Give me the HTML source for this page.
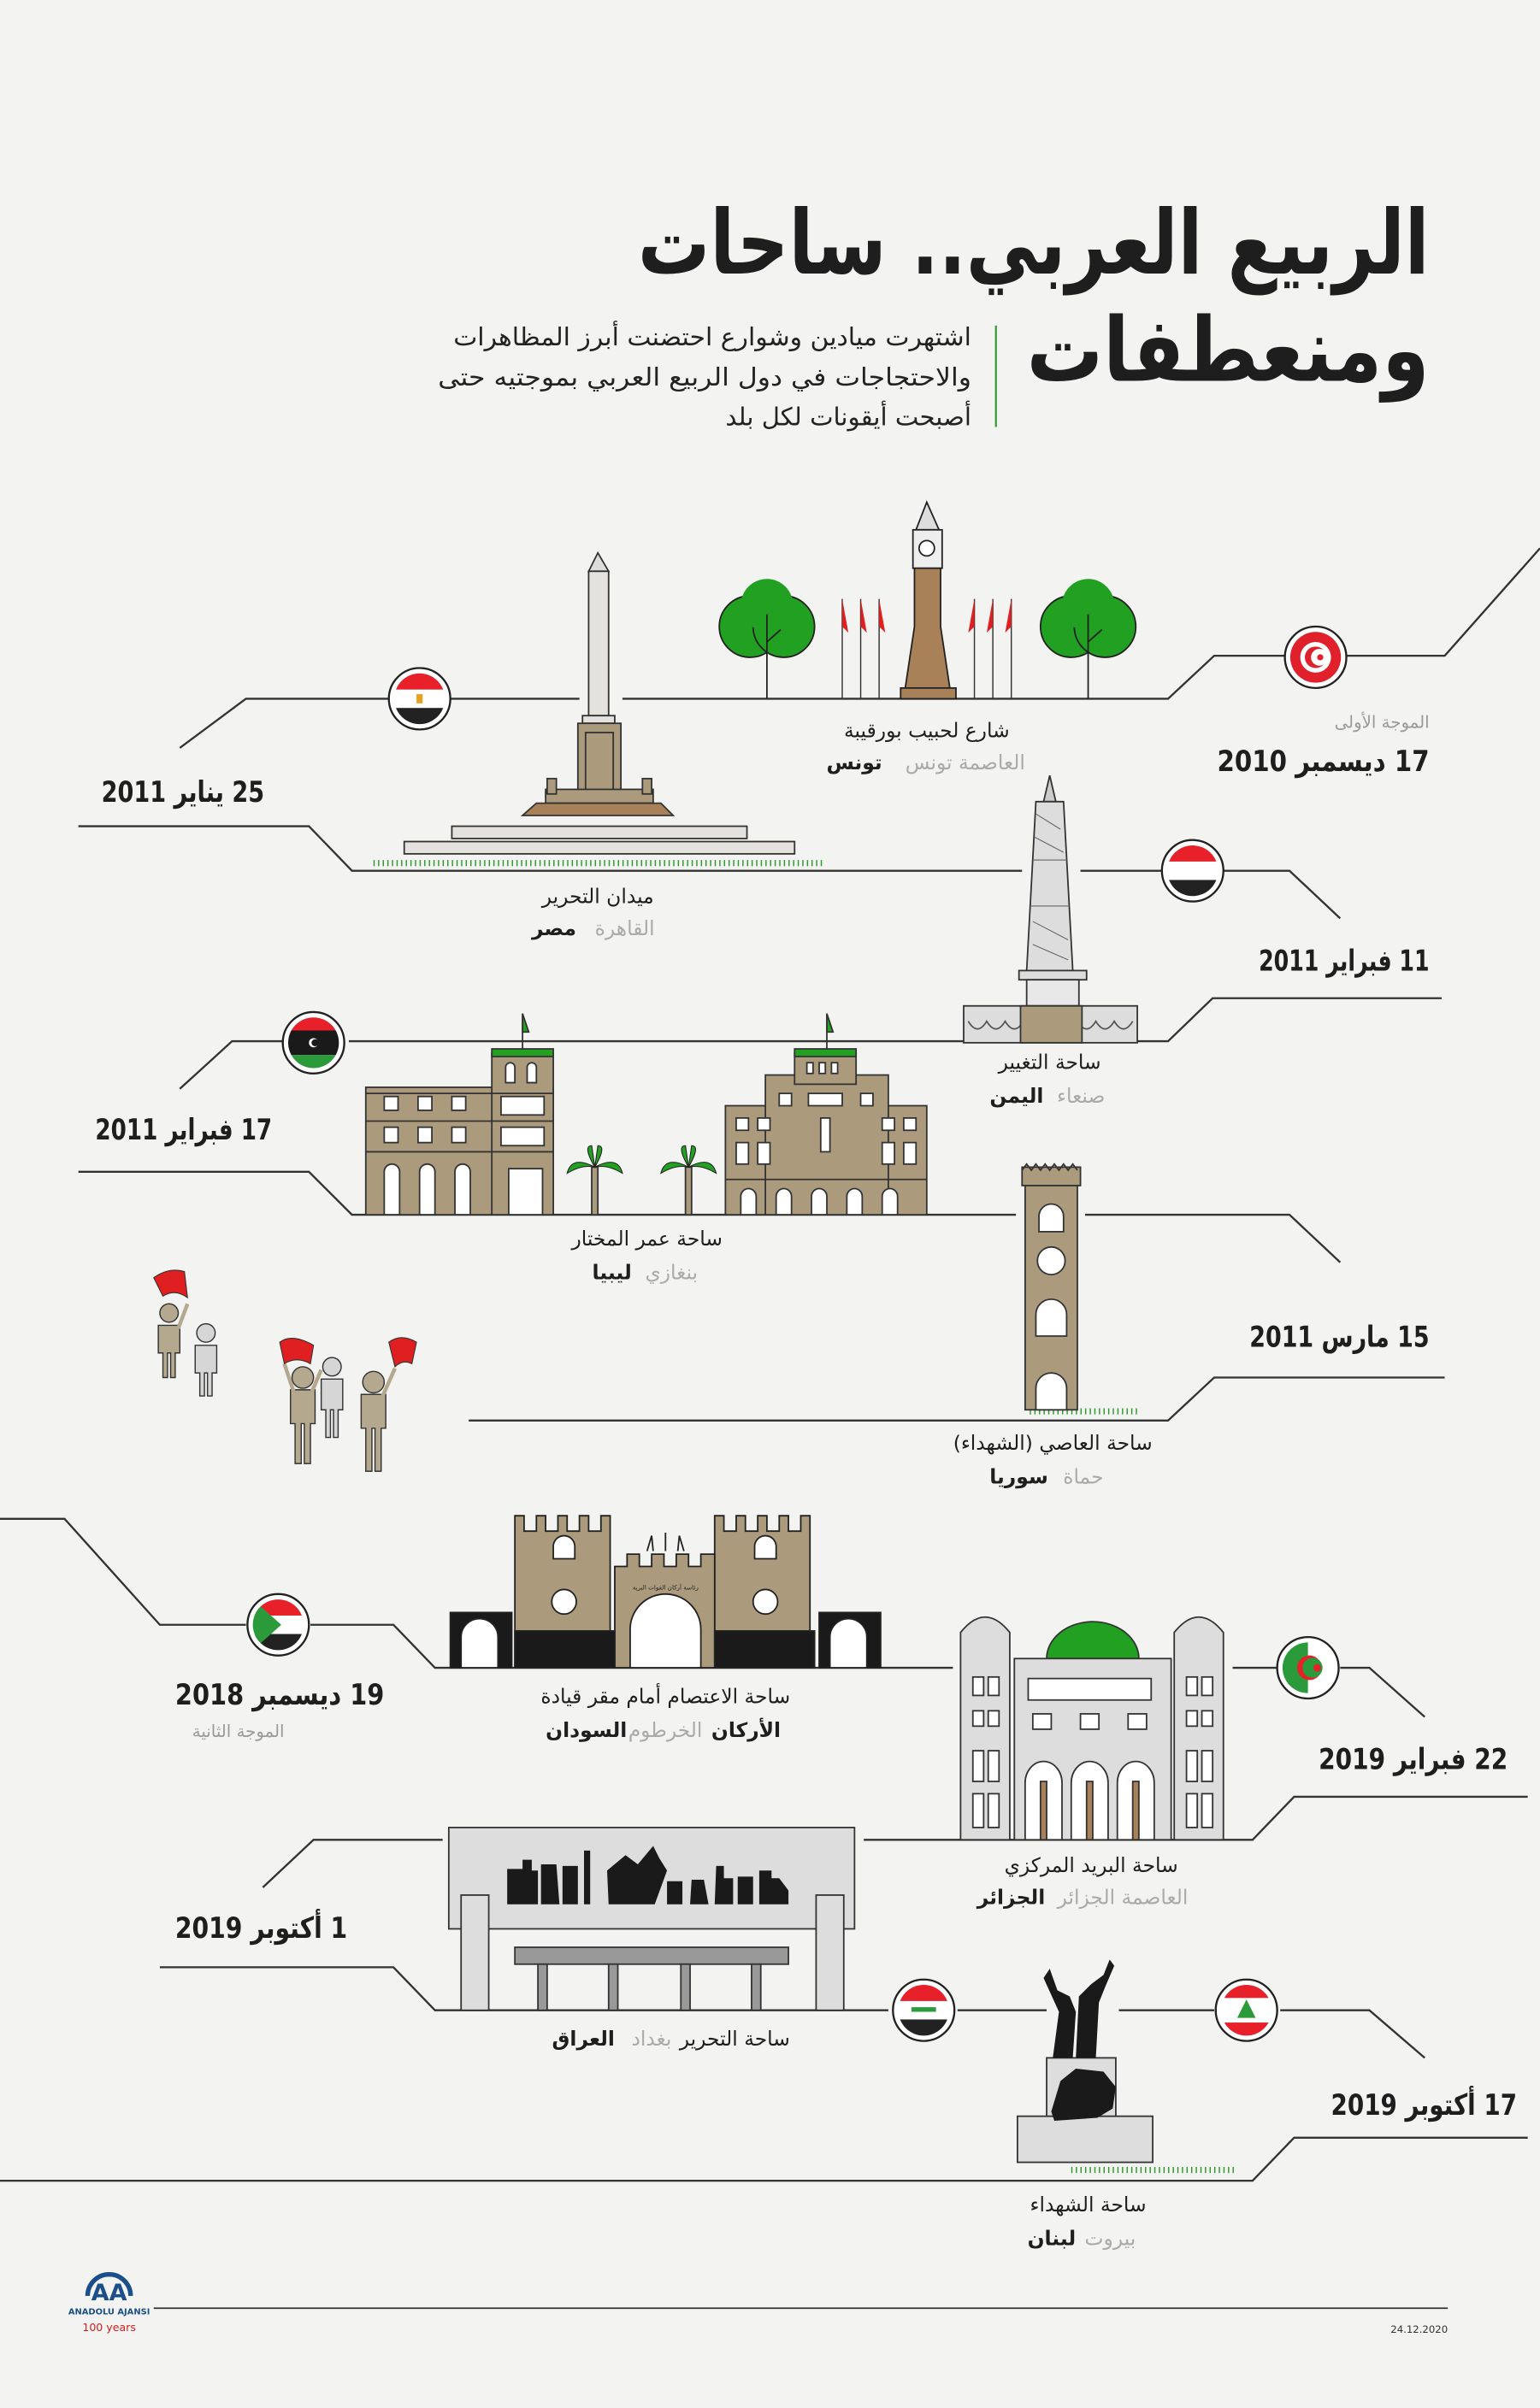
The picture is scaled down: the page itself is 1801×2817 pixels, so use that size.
<!DOCTYPE html>
<html><head><meta charset="utf-8"><style>
html,body{margin:0;padding:0;background:#f3f3f1;}
svg{display:block;}
text{font-family:"DejaVu Sans","Liberation Sans",sans-serif;}
</style></head><body>
<svg width="1801" height="2817" viewBox="0 0 1002 1568" preserveAspectRatio="none" xmlns="http://www.w3.org/2000/svg">
<defs>
<clipPath id="c"><circle cx="0" cy="0" r="16.5"/></clipPath>
</defs>
<rect width="1002" height="1568" fill="#f3f3f1"/>

<!-- Title -->
<text x="930" y="178" text-anchor="end" font-size="58" font-weight="bold" fill="#1e1e1e" textLength="515" lengthAdjust="spacingAndGlyphs">الربيع العربي.. ساحات</text>
<text x="930" y="248" text-anchor="end" font-size="58" font-weight="bold" fill="#1e1e1e" textLength="262" lengthAdjust="spacingAndGlyphs">ومنعطفات</text>
<line x1="648" y1="212" x2="648" y2="278" stroke="#2a9a2a" stroke-width="1.2"/>
<g font-size="16" fill="#222" text-anchor="end">
<text x="632" y="225" textLength="337" lengthAdjust="spacingAndGlyphs">اشتهرت ميادين وشوارع احتضنت أبرز المظاهرات</text>
<text x="632" y="251" textLength="347" lengthAdjust="spacingAndGlyphs">والاحتجاجات في دول الربيع العربي بموجتيه حتى</text>
<text x="632" y="277" textLength="160" lengthAdjust="spacingAndGlyphs">أصبحت أيقونات لكل بلد</text>
</g>

<!-- Timeline lines -->
<g fill="none" stroke="#333" stroke-width="1.3">
<polyline points="1002,357 940,427 790,427 760,455 405,455"/>
<polyline points="377,455 160,455 117,487"/>
<polyline points="51,538 201,538 229,567 665,567"/>
<polyline points="703,567 839,567 872,598"/>
<polyline points="938,650 789,650 760,678 227,678"/>
<polyline points="185,678 151,678 117,709"/>
<polyline points="51,763 201,763 229,791 661,791"/>
<polyline points="706,791 839,791 872,822"/>
<polyline points="940,897 790,897 760,925 305,925"/>
<polyline points="0,989 42,989 104,1058 160,1058"/>
<polyline points="202,1058 256,1058 283,1086 620,1086"/>
<polyline points="802,1086 831,1086"/>
<polyline points="872,1086 891,1086 927,1118"/>
<polyline points="994,1170 842,1170 815,1198 562,1198"/>
<polyline points="288,1198 204,1198 171,1229"/>
<polyline points="104,1281 256,1281 283,1309 578,1309"/>
<polyline points="623,1309 681,1309"/>
<polyline points="728,1309 790,1309"/>
<polyline points="833,1309 891,1309 927,1340"/>
<polyline points="994,1392 842,1392 815,1420 0,1420"/>
</g>
<line x1="100" y1="1503" x2="942" y2="1503" stroke="#333" stroke-width="1"/>
<g stroke="#2a9a2a" stroke-width="4" stroke-dasharray="0.8 2.2">
<line x1="243" y1="562" x2="535" y2="562"/>
<line x1="670" y1="919" x2="740" y2="919"/>
<line x1="697" y1="1413" x2="805" y2="1413"/>
</g>

<!-- Tunisia -->
<g stroke="#222" stroke-width="1">
<circle cx="488" cy="408" r="20" fill="#21a021"/><circle cx="510" cy="408" r="20" fill="#21a021"/><circle cx="499" cy="394" r="17" fill="#21a021" stroke="none"/>
<line x1="499" y1="400" x2="499" y2="455"/><line x1="499" y1="418" x2="508" y2="410"/>
<circle cx="697" cy="408" r="20" fill="#21a021"/><circle cx="719" cy="408" r="20" fill="#21a021"/><circle cx="708" cy="394" r="17" fill="#21a021" stroke="none"/>
<line x1="708" y1="400" x2="708" y2="455"/><line x1="708" y1="418" x2="717" y2="410"/>
</g>
<g stroke="#333" stroke-width="0.8">
<line x1="548" y1="390" x2="548" y2="455"/><line x1="560" y1="390" x2="560" y2="455"/><line x1="572" y1="390" x2="572" y2="455"/>
<line x1="634" y1="390" x2="634" y2="455"/><line x1="646" y1="390" x2="646" y2="455"/><line x1="658" y1="390" x2="658" y2="455"/>
</g>
<g fill="#e02020">
<polygon points="548,390 552,412 548,408"/><polygon points="560,390 564,412 560,408"/><polygon points="572,390 576,412 572,408"/>
<polygon points="634,390 630,412 634,408"/><polygon points="646,390 642,412 646,408"/><polygon points="658,390 654,412 658,408"/>
</g>
<g stroke="#222" stroke-width="1">
<polygon points="603,327 596,345 611,345" fill="#ddd"/>
<rect x="594" y="345" width="19" height="25" fill="#eee"/>
<circle cx="603" cy="357" r="5" fill="#fff"/>
<polygon points="595,370 612,370 612,408 618,448 589,448 595,408" fill="#a88158"/>
<rect x="586" y="448" width="36" height="7" fill="#a88158"/>
</g>

<!-- Egypt obelisk -->
<g stroke="#333" stroke-width="1">
<polygon points="389,360 383,372 396,372" fill="#ddd"/>
<rect x="383" y="372" width="13" height="94" fill="#e4e2de"/>
<rect x="379" y="466" width="21" height="5" fill="#e4e2de"/>
<rect x="376" y="471" width="28" height="52" fill="#ab9b7c"/>
<rect x="381" y="477" width="18" height="40" fill="#ab9b7c"/>
<rect x="355" y="514" width="70" height="9" fill="#ab9b7c"/>
<rect x="356" y="507" width="6" height="10" fill="#ab9b7c"/><rect x="418" y="507" width="6" height="10" fill="#ab9b7c"/>
<polygon points="340,531 349,523 430,523 438,531" fill="#a88158"/>
<rect x="294" y="538" width="192" height="8" fill="#e4e2de"/>
<rect x="263" y="548" width="254" height="8" fill="#e4e2de"/>
</g>

<!-- Yemen tower -->
<g stroke="#333" stroke-width="1">
<polygon points="683,505 679,522 687,522" fill="#ccc"/>
<polygon points="674,522 692,522 698,632 668,632" fill="#ddd"/>
<path d="M672,560 L694,560 M671,590 L695,590 M674,530 L690,540 M673,545 L692,555 M672,600 L695,612 M672,615 L695,625" stroke="#666" stroke-width="0.6"/>
<rect x="663" y="632" width="44" height="6" fill="#ddd"/>
<rect x="668" y="638" width="34" height="17" fill="#e8e8e8"/>
<rect x="627" y="655" width="113" height="24" fill="#ddd"/>
<path d="M630,665 q6,10 12,0 q6,10 12,0 q6,10 12,0 M701,665 q6,10 12,0 q6,10 12,0 q6,10 12,0" fill="none" stroke="#555"/>
<rect x="664" y="655" width="40" height="24" fill="#ab9b7c"/>
</g>

<!-- Libya buildings -->
<g stroke="#333" stroke-width="1">
<rect x="238" y="708" width="122" height="83" fill="#ab9b7c"/>
<rect x="320" y="686" width="40" height="105" fill="#ab9b7c"/>
<rect x="320" y="683" width="40" height="5" fill="#21a021"/>
<line x1="340" y1="660" x2="340" y2="683"/><polygon points="340,660 344,672 340,672" fill="#21a021"/>
<line x1="238" y1="712" x2="360" y2="712"/><line x1="238" y1="730" x2="360" y2="730"/><line x1="238" y1="750" x2="360" y2="750"/>
<g fill="#fff">
<rect x="250" y="714" width="9" height="9"/><rect x="272" y="714" width="9" height="9"/><rect x="294" y="714" width="9" height="9"/><rect x="326" y="714" width="28" height="12"/>
<rect x="250" y="734" width="9" height="10"/><rect x="272" y="734" width="9" height="10"/><rect x="294" y="734" width="9" height="10"/><rect x="326" y="734" width="28" height="12"/>
<path d="M250,791 v-28 a5,5 0 0 1 10,0 v28z M273,791 v-28 a5,5 0 0 1 10,0 v28z M296,791 v-28 a5,5 0 0 1 10,0 v28z M331,791 v-30 h22 v30z"/>
<path d="M329,705 v-10 a3,3 0 0 1 6,0 v10z M343,705 v-10 a3,3 0 0 1 6,0 v10z"/>
</g>
<rect x="472" y="720" width="131" height="71" fill="#ab9b7c"/>
<rect x="498" y="700" width="80" height="91" fill="#ab9b7c"/>
<rect x="517" y="686" width="40" height="20" fill="#ab9b7c"/>
<rect x="517" y="683" width="40" height="5" fill="#21a021"/>
<line x1="538" y1="660" x2="538" y2="683"/><polygon points="538,660 542,672 538,672" fill="#21a021"/>
<line x1="472" y1="768" x2="603" y2="768"/>
<g fill="#fff">
<rect x="525" y="692" width="4" height="7"/><rect x="533" y="692" width="4" height="7"/><rect x="541" y="692" width="4" height="7"/>
<rect x="479" y="728" width="8" height="8"/><rect x="479" y="744" width="8" height="14"/><rect x="493" y="728" width="8" height="8"/><rect x="493" y="744" width="8" height="14"/>
<rect x="507" y="712" width="8" height="8"/><rect x="526" y="712" width="22" height="8"/><rect x="560" y="712" width="8" height="8"/>
<rect x="534" y="728" width="6" height="22"/>
<rect x="574" y="728" width="8" height="8"/><rect x="574" y="744" width="8" height="14"/><rect x="588" y="728" width="8" height="8"/><rect x="588" y="744" width="8" height="14"/>
<path d="M482,791 v-12 a5,5 0 0 1 10,0 v12z M505,791 v-12 a5,5 0 0 1 10,0 v12z M528,791 v-12 a5,5 0 0 1 10,0 v12z M551,791 v-12 a5,5 0 0 1 10,0 v12z M574,791 v-12 a5,5 0 0 1 10,0 v12z"/>
</g>
<rect x="385" y="760" width="4" height="31" fill="#ab9b7c"/>
<rect x="446" y="760" width="4" height="31" fill="#ab9b7c"/>
</g>
<g fill="#21a021" stroke="#222" stroke-width="0.6">
<path d="M387,760 q-15,-8 -18,4 q10,-6 18,-4z M387,760 q15,-8 18,4 q-10,-6 -18,-4z M387,760 q-8,-14 -2,-14z M387,760 q8,-14 2,-14z"/>
<path d="M448,760 q-15,-8 -18,4 q10,-6 18,-4z M448,760 q15,-8 18,4 q-10,-6 -18,-4z M448,760 q-8,-14 -2,-14z M448,760 q8,-14 2,-14z"/>
</g>

<!-- Syria tower -->
<g stroke="#333" stroke-width="1">
<rect x="665" y="760" width="38" height="12" fill="#ab9b7c"/>
<path d="M665,762 l3,-4 3,4 3,-4 3,4 3,-4 3,4 3,-4 3,4 3,-4 3,4 3,-4 3,4" fill="none"/>
<rect x="667" y="772" width="34" height="146" fill="#ab9b7c"/>
<path d="M676,802 v-10 a8,8 0 0 1 16,0 v10z" fill="#fff"/>
<circle cx="684" cy="821" r="9" fill="#fff"/>
<path d="M674,870 v-14 a10,10 0 0 1 20,0 v14z" fill="#fff"/>
<path d="M674,918 v-14 a10,10 0 0 1 20,0 v14z" fill="#fff"/>
</g>

<!-- Protesters -->
<g fill="#b4a88e" stroke="#333" stroke-width="0.8">
<circle cx="110" cy="855" r="6"/><path d="M103,863 h14 v18 h-3 v16 h-3 v-16 h-2 v16 h-3 v-16 h-3z"/>
<path d="M116,865 l6,-16" fill="none" stroke-width="2.5" stroke="#b4a88e"/>
<circle cx="197" cy="897" r="7"/><path d="M189,905 h16 v22 h-3 v26 h-4 v-26 h-2 v26 h-4 v-26 h-3z"/>
<path d="M191,906 l-6,-18 M203,906 l6,-14" fill="none" stroke-width="2.5" stroke="#b4a88e"/>
<circle cx="243" cy="900" r="7"/><path d="M235,908 h16 v22 h-3 v28 h-4 v-28 h-2 v28 h-4 v-28 h-3z"/>
<path d="M249,909 l8,-18" fill="none" stroke-width="2.5" stroke="#b4a88e"/>
</g>
<g fill="#d6d6d6" stroke="#333" stroke-width="0.8">
<circle cx="134" cy="868" r="6"/><path d="M127,876 h14 v18 h-3 v15 h-3 v-15 h-2 v15 h-3 v-15 h-3z"/>
<circle cx="216" cy="890" r="6"/><path d="M209,898 h14 v20 h-3 v18 h-3 v-18 h-2 v18 h-3 v-18 h-3z"/>
</g>
<g fill="#e02020" stroke="#333" stroke-width="0.6">
<path d="M122,845 l-2,-17 q-10,-3 -20,4 l6,12 q8,-5 16,1z"/>
<path d="M185,888 l-3,-14 q8,-6 22,2 l-2,12 q-9,-5 -17,0z"/>
<path d="M257,890 l-4,-16 q8,-6 18,0 l-3,14 q-6,-3 -11,2z"/>
</g>

<!-- Sudan gate -->
<g stroke="#222" stroke-width="1">
<rect x="293" y="1050" width="40" height="36" fill="#1a1a1a"/>
<rect x="533" y="1050" width="40" height="36" fill="#1a1a1a"/>
<path d="M300,1086 v-20 a12,12 0 0 1 24,0 v20z" fill="#fff"/>
<path d="M540,1086 v-20 a12,12 0 0 1 24,0 v20z" fill="#fff"/>
<path d="M335,1086 V987 h6 v10 h8 v-10 h6 v10 h8 v-10 h6 v10 h8 v-10 h6 v10 h8 v-10 h6 V1086z" fill="#ab9b7c"/>
<path d="M465,1086 V987 h6 v10 h8 v-10 h6 v10 h8 v-10 h6 v10 h8 v-10 h6 v10 h8 v-10 h6 V1086z" fill="#ab9b7c"/>
<path d="M400,1086 V1020 h8 v-8 h8 v8 h8 v-8 h8 v8 h8 v-8 h8 v8 h8 v-8 h9 v74z" fill="#ab9b7c"/>
<rect x="335" y="1062" width="65" height="24" fill="#1a1a1a"/>
<rect x="465" y="1062" width="65" height="24" fill="#1a1a1a"/>
<circle cx="367" cy="1043" r="8" fill="#fff"/><circle cx="498" cy="1043" r="8" fill="#fff"/>
<path d="M360,1015 v-8 a7,7 0 0 1 14,0 v8z" fill="#fff"/><path d="M491,1015 v-8 a7,7 0 0 1 14,0 v8z" fill="#fff"/>
<path d="M410,1086 v-25 a22,22 0 0 1 46,0 v25z" fill="#fff"/>
<path d="M421,1010 l3,-10 1,10 M433,1010 l0,-12 M445,1010 l-3,-10 -1,10" fill="none"/>
</g>
<text x="433" y="1035" text-anchor="middle" font-size="4" fill="#222">رئاسة أركان القوات البرية</text>

<!-- Algeria post -->
<g stroke="#333" stroke-width="1">
<path d="M681,1080 a30,24 0 0 1 60,0z" fill="#21a021"/>
<rect x="660" y="1080" width="102" height="118" fill="#ddd"/>
<path d="M625,1198 V1063 q16,-20 32,0 V1198z" fill="#ddd"/>
<path d="M764,1198 V1063 q16,-20 32,0 V1198z" fill="#ddd"/>
<g fill="#fff">
<rect x="633" y="1092" width="7" height="12"/><rect x="643" y="1092" width="7" height="12"/><rect x="772" y="1092" width="7" height="12"/><rect x="782" y="1092" width="7" height="12"/>
<rect x="633" y="1114" width="7" height="10"/><rect x="643" y="1114" width="7" height="10"/><rect x="772" y="1114" width="7" height="10"/><rect x="782" y="1114" width="7" height="10"/>
<rect x="633" y="1140" width="7" height="20"/><rect x="643" y="1140" width="7" height="20"/><rect x="772" y="1140" width="7" height="20"/><rect x="782" y="1140" width="7" height="20"/>
<rect x="633" y="1168" width="7" height="22"/><rect x="643" y="1168" width="7" height="22"/><rect x="772" y="1168" width="7" height="22"/><rect x="782" y="1168" width="7" height="22"/>
<path d="M669,1107 h80 v-14 h-80z"/>
<rect x="672" y="1116" width="12" height="10"/><rect x="703" y="1116" width="12" height="10"/><rect x="734" y="1116" width="12" height="10"/>
<path d="M667,1198 v-37 a12,14 0 0 1 24,0 v37z M697,1198 v-37 a12,14 0 0 1 24,0 v37z M727,1198 v-37 a12,14 0 0 1 24,0 v37z"/>
</g>
<path d="M677,1198 v-38 h4 v38z M707,1198 v-38 h4 v38z M737,1198 v-38 h4 v38z" fill="#a88158"/>
</g>

<!-- Iraq monument -->
<g stroke="#333" stroke-width="1">
<rect x="292" y="1190" width="264" height="66" fill="#ddd"/>
<rect x="300" y="1234" width="18" height="75" fill="#ddd"/>
<rect x="531" y="1234" width="18" height="75" fill="#ddd"/>
<rect x="335" y="1268" width="178" height="11" fill="#999"/>
<rect x="350" y="1279" width="6" height="30" fill="#999"/><rect x="396" y="1279" width="6" height="30" fill="#999"/><rect x="443" y="1279" width="6" height="30" fill="#999"/><rect x="489" y="1279" width="6" height="30" fill="#999"/>
</g>
<g fill="#1a1a1a">
<path d="M330,1217 h10 v-6 h6 v7 h4 v22 h-20z M352,1214 h10 l2,26 h-12z M366,1215 h10 v25 h-10z M380,1205 h4 v35 h-4z"/>
<path d="M395,1218 l12,-10 8,6 10,-12 4,8 5,8 -8,22 h-30z M434,1225 h10 v15 h-10z"/>
<path d="M450,1224 h8 l3,16 h-12z M466,1215 h5 v8 h6 v17 h-12z M480,1222 h10 v18 h-10z M494,1218 h8 v5 h5 l6,8 v9 h-19z"/>
</g>

<!-- Lebanon statue -->
<g stroke="#333" stroke-width="1">
<rect x="662" y="1378" width="88" height="30" fill="#ddd"/>
<rect x="681" y="1340" width="45" height="38" fill="#ddd"/>
</g>
<g fill="#1a1a1a">
<path d="M685,1340 l4,-30 -10,-22 4,-6 5,14 8,4 4,10 -2,30z"/>
<path d="M700,1340 l2,-40 8,-8 8,-6 4,-10 3,4 -6,14 -4,10 -2,36z"/>
<path d="M684,1375 l6,-20 10,-8 18,2 8,10 -2,14 -10,6 -28,2z"/>
</g>

<!-- Flags -->
<g stroke="#222" stroke-width="1.3">
<g transform="translate(856,428)"><circle r="20" fill="#fff"/><circle r="16.5" fill="#e0202a" stroke="none"/><circle r="10" fill="#fff" stroke="none"/><circle r="7" fill="#e0202a" stroke="none"/><circle cx="2.5" r="5.5" fill="#fff" stroke="none"/><circle cx="3" r="2" fill="#e0202a" stroke="none"/></g>
<g transform="translate(273,455)"><circle r="20" fill="#fff"/><g clip-path="url(#c)" stroke="none"><rect x="-17" y="-17" width="34" height="11" fill="#e8202a"/><rect x="-17" y="6" width="34" height="11" fill="#222"/><rect x="-2" y="-3" width="4" height="6" fill="#e8a020"/></g></g>
<g transform="translate(776,567)"><circle r="20" fill="#fff"/><g clip-path="url(#c)" stroke="none"><rect x="-17" y="-17" width="34" height="11" fill="#e8202a"/><rect x="-17" y="6" width="34" height="11" fill="#222"/></g></g>
<g transform="translate(204,679)"><circle r="20" fill="#fff"/><g clip-path="url(#c)" stroke="none"><rect x="-17" y="-17" width="34" height="9" fill="#e8202a"/><rect x="-17" y="-8" width="34" height="16" fill="#1a1a1a"/><rect x="-17" y="8" width="34" height="9" fill="#2a9a3a"/><circle r="3" fill="#fff"/><circle cx="1" r="2.3" fill="#1a1a1a"/></g></g>
<g transform="translate(181,1058)"><circle r="20" fill="#fff"/><g clip-path="url(#c)" stroke="none"><rect x="-17" y="-17" width="34" height="11" fill="#e8202a"/><rect x="-17" y="6" width="34" height="11" fill="#222"/><polygon points="-17,-17 2,0 -17,17" fill="#2a9a3a"/></g></g>
<g transform="translate(851,1086)"><circle r="20" fill="#fff"/><g clip-path="url(#c)" stroke="none"><rect x="-17" y="-17" width="17" height="34" fill="#2a9a3a"/><circle cx="1" r="8" fill="#e8202a"/><circle cx="3" r="6.5" fill="#2a9a3a"/><circle cx="6" r="2.5" fill="#e8202a"/></g></g>
<g transform="translate(601,1309)"><circle r="20" fill="#fff"/><g clip-path="url(#c)" stroke="none"><rect x="-17" y="-17" width="34" height="11" fill="#e8202a"/><rect x="-17" y="6" width="34" height="11" fill="#222"/><rect x="-8" y="-2" width="16" height="3" fill="#2a9a3a"/></g></g>
<g transform="translate(811,1309)"><circle r="20" fill="#fff"/><g clip-path="url(#c)" stroke="none"><rect x="-17" y="-17" width="34" height="9" fill="#e8202a"/><rect x="-17" y="8" width="34" height="9" fill="#e8202a"/><polygon points="0,-7 6,5 -6,5" fill="#2a9a3a"/></g></g>
</g>

<!-- Labels -->
<g fill="#1e1e1e" font-weight="bold" font-size="19">
<text x="930" y="502" text-anchor="end" textLength="138" lengthAdjust="spacingAndGlyphs">&#x202B;17 ديسمبر 2010&#x202C;</text>
<text x="172" y="522" text-anchor="end" textLength="106" lengthAdjust="spacingAndGlyphs">&#x202B;25 يناير 2011&#x202C;</text>
<text x="930" y="632" text-anchor="end" textLength="111" lengthAdjust="spacingAndGlyphs">&#x202B;11 فبراير 2011&#x202C;</text>
<text x="177" y="742" text-anchor="end" textLength="115" lengthAdjust="spacingAndGlyphs">&#x202B;17 فبراير 2011&#x202C;</text>
<text x="930" y="877" text-anchor="end" textLength="117" lengthAdjust="spacingAndGlyphs">&#x202B;15 مارس 2011&#x202C;</text>
<text x="250" y="1110" text-anchor="end" textLength="136" lengthAdjust="spacingAndGlyphs">&#x202B;19 ديسمبر 2018&#x202C;</text>
<text x="981" y="1152" text-anchor="end" textLength="123" lengthAdjust="spacingAndGlyphs">&#x202B;22 فبراير 2019&#x202C;</text>
<text x="226" y="1262" text-anchor="end" textLength="112" lengthAdjust="spacingAndGlyphs">&#x202B;1 أكتوبر 2019&#x202C;</text>
<text x="987" y="1377" text-anchor="end" textLength="121" lengthAdjust="spacingAndGlyphs">&#x202B;17 أكتوبر 2019&#x202C;</text>
</g>
<g fill="#9a9a9a" font-size="11">
<text x="930" y="474" text-anchor="end">الموجة الأولى</text>
<text x="185" y="1131" text-anchor="end">الموجة الثانية</text>
</g>
<g fill="#1e1e1e" font-size="13" text-anchor="middle">
<text x="603" y="480">شارع لحبيب بورقيبة</text>
<text x="389" y="588">ميدان التحرير</text>
<text x="683" y="696">ساحة التغيير</text>
<text x="421" y="811">ساحة عمر المختار</text>
<text x="685" y="944">&#x202B;ساحة العاصي (الشهداء)&#x202C;</text>
<text x="433" y="1109">ساحة الاعتصام أمام مقر قيادة</text>
<text x="710" y="1219">ساحة البريد المركزي</text>
<text x="708" y="1440">ساحة الشهداء</text>
</g>
<g font-size="13">
<text x="667" y="501" text-anchor="end" fill="#aaa">العاصمة تونس</text><text x="574" y="501" text-anchor="end" fill="#1e1e1e" font-weight="bold">تونس</text>
<text x="426" y="609" text-anchor="end" fill="#aaa">القاهرة</text><text x="375" y="609" text-anchor="end" fill="#1e1e1e" font-weight="bold">مصر</text>
<text x="719" y="718" text-anchor="end" fill="#aaa">صنعاء</text><text x="679" y="718" text-anchor="end" fill="#1e1e1e" font-weight="bold">اليمن</text>
<text x="454" y="833" text-anchor="end" fill="#aaa">بنغازي</text><text x="411" y="833" text-anchor="end" fill="#1e1e1e" font-weight="bold">ليبيا</text>
<text x="718" y="966" text-anchor="end" fill="#aaa">حماة</text><text x="682" y="966" text-anchor="end" fill="#1e1e1e" font-weight="bold">سوريا</text>
<text x="508" y="1131" text-anchor="end" fill="#1e1e1e" font-weight="bold">الأركان</text><text x="457" y="1131" text-anchor="end" fill="#aaa">الخرطوم</text><text x="408" y="1131" text-anchor="end" fill="#1e1e1e" font-weight="bold">السودان</text>
<text x="773" y="1240" text-anchor="end" fill="#aaa">العاصمة الجزائر</text><text x="680" y="1240" text-anchor="end" fill="#1e1e1e" font-weight="bold">الجزائر</text>
<text x="514" y="1332" text-anchor="end" fill="#1e1e1e">ساحة التحرير</text><text x="437" y="1332" text-anchor="end" fill="#aaa">بغداد</text><text x="400" y="1332" text-anchor="end" fill="#1e1e1e" font-weight="bold">العراق</text>
<text x="739" y="1462" text-anchor="end" fill="#aaa">بيروت</text><text x="700" y="1462" text-anchor="end" fill="#1e1e1e" font-weight="bold">لبنان</text>
</g>

<!-- Logo -->
<g>
<path d="M57,1495 a14,14 0 0 1 28,0" fill="none" stroke="#1a4f8a" stroke-width="3"/>
<text x="71" y="1498" text-anchor="middle" font-size="15" font-weight="bold" fill="#1a4f8a" font-family="Liberation Sans">AA</text>
<text x="71" y="1507" text-anchor="middle" font-size="5.5" font-weight="bold" fill="#1a4f8a" font-family="Liberation Sans">ANADOLU AJANSI</text>
<text x="71" y="1518" text-anchor="middle" font-size="7" fill="#d02020" font-family="Liberation Sans">100 years</text>
</g>
<text x="942" y="1519" text-anchor="end" font-size="6.5" fill="#333" font-family="Liberation Sans">24.12.2020</text>
</svg>
</body></html>
